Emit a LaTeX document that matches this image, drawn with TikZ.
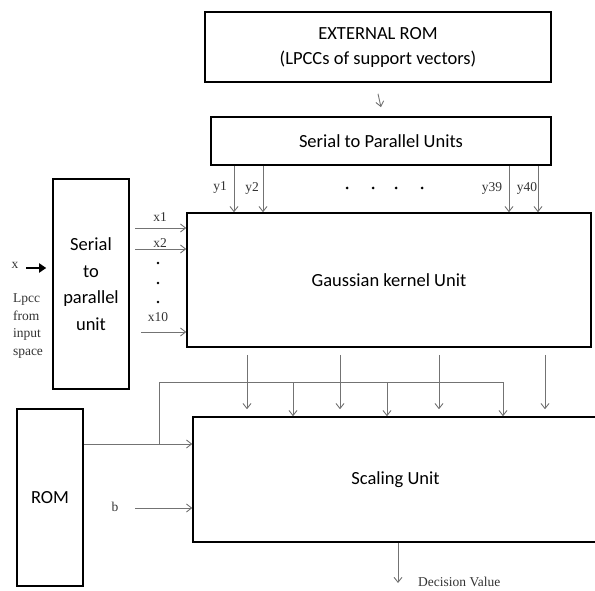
\documentclass[tikz,border=0pt]{standalone}
\usepackage{fontspec}
\setmainfont{Liberation Serif}
\newfontfamily\blockfont{Carlito}
\usetikzlibrary{arrows.meta}

\begin{document}
\begin{tikzpicture}[x=1pt, y=-1pt,
    block/.style={draw, line width=1.6pt, inner sep=0pt, align=center,
        font=\blockfont\fontsize{18.5}{22}\selectfont},
    conn/.style={draw=black!55, line width=0.9pt, -{Straight Barb[length=5pt,width=8pt]}},
    wire/.style={draw=black!55, line width=0.9pt},
    lbl/.style={font=\fontsize{13.5}{15}\selectfont, text=black!80, inner sep=0pt}]
    \useasboundingbox (0,0) rectangle (595,591);

    % Top boxes
    \node[block, minimum width=346pt, minimum height=70pt,
        font=\blockfont\fontsize{18.5}{25}\selectfont] (extrom) at (378,47)
        {EXTERNAL ROM\\(LPCCs of support vectors)};
    \node[block, minimum width=340pt, minimum height=48pt] (spu) at (381,141) {Serial to Parallel Units};
    \draw[conn] ([yshift=-11pt]extrom.south) -- ([yshift=9pt]spu.north);

    % Gaussian kernel
    \node[block, minimum width=404pt, minimum height=134pt] (gauss) at (389,280) {Gaussian kernel Unit};
    \foreach \yx in {234,263,509,538}
        \draw[conn] (\yx,0 |- spu.south) -- (\yx,0 |- gauss.north);
    \node[lbl] (y1) at (220,188) {y1};
    \node[lbl] (y2) at (252,188) {y2};
    \node[lbl] (y39) at (492,188) {y39};
    \node[lbl] (y40) at (527,188) {y40};
    \foreach \dx in {347,373,396,422}
        \fill (\dx,188) circle (1.5pt);

    % Input side
    \node[block, minimum width=76pt, minimum height=210pt,
        font=\blockfont\fontsize{18.5}{26.5}\selectfont] (serpar) at (91,284)
        {Serial\\to\\parallel\\unit};
    \node[lbl] (xin) at (15,265) {x};
    \draw[line width=2.6pt, -{Triangle[length=7pt,width=9pt]}] (26,268) -- ([xshift=-6pt]serpar.west |- 0,268);
    \node[lbl, align=left, font=\fontsize{13.5}{17.5}\selectfont] (lpcc) at (28,326) {Lpcc\\from\\input\\space};
    \draw[conn] (135,228) -- (gauss.west |- 0,228);
    \draw[conn] (135,249) -- (gauss.west |- 0,249);
    \draw[conn] (141,332) -- (gauss.west |- 0,332);
    \node[lbl] (x1) at (160,217) {x1};
    \node[lbl] (x2) at (160,243) {x2};
    \node[lbl] (x10) at (158,317) {x10};
    \foreach \dy in {263,283,302}
        \fill (158,\dy) circle (1.3pt);

    % Scaling unit
    \node[block, minimum width=405pt, minimum height=125pt] (scal) at (395.5,479.5) {Scaling Unit};
    \node[block, line width=2.2pt, minimum width=66pt, minimum height=177pt] (rom) at (50,497.5) {ROM};
    \foreach \gx in {247,340,439,545}
        \draw[conn] ([yshift=-7pt]gauss.south -| \gx,0) -- ([yshift=7pt]scal.north -| \gx,0);
    \draw[conn] (rom.east |- 0,444) -- (scal.west |- 0,444);
    \coordinate (branch) at (159,444);
    \coordinate (bus) at (503,382);
    \draw[wire] (branch) |- (bus);
    \foreach \bx in {293,387,503}
        \draw[conn] (\bx,382) -- (\bx,0 |- scal.north);
    \node[lbl] (b) at (115,507) {b};
    \draw[conn] (135,508) -- (scal.west |- 0,508);

    % Output
    \coordinate (out) at (398,583);
    \draw[conn] (scal.south -| out) -- (out);
    \node[lbl, anchor=west] (dec) at (418,582) {Decision Value};
\end{tikzpicture}
\end{document}
